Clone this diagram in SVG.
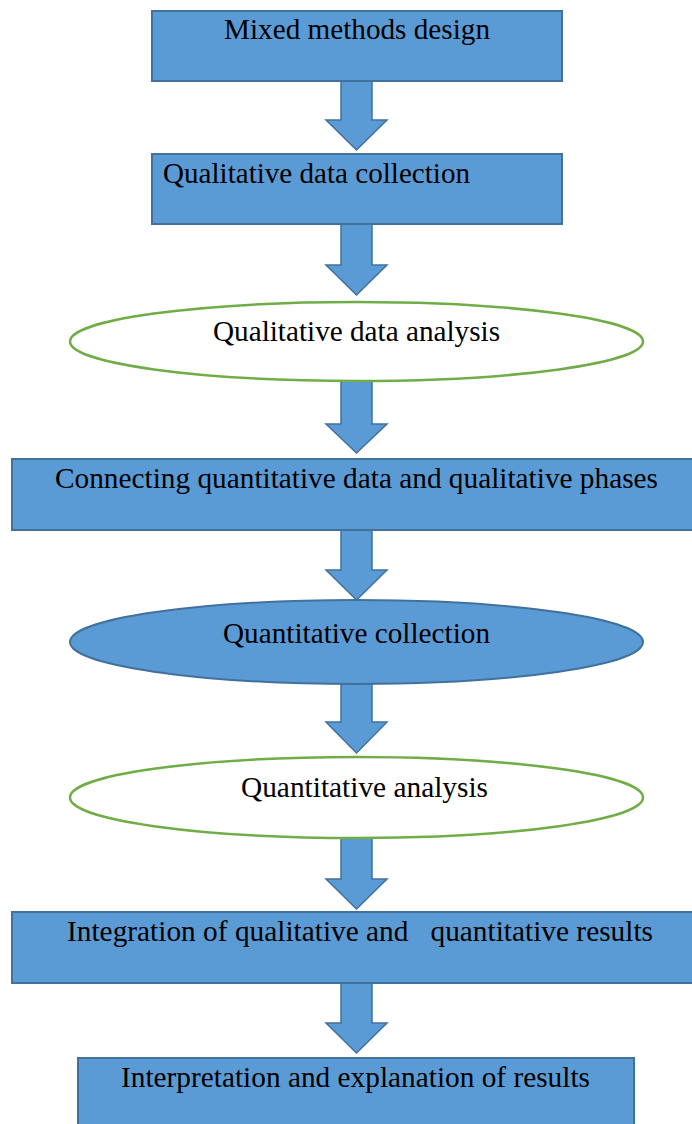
<svg xmlns="http://www.w3.org/2000/svg" width="692" height="1124" viewBox="0 0 692 1124">
<style>
.b{fill:#5B9BD5;stroke:#41719C;stroke-width:2}
.e{fill:#FFFFFF;stroke:#70AD47;stroke-width:2.5}
.a{fill:#5B9BD5;stroke:#41719C;stroke-width:1.5;stroke-linejoin:miter}
text{font-family:"Liberation Serif","Times New Roman",serif;font-size:29px;fill:#000;white-space:pre}
</style>
<rect width="692" height="1124" fill="#FFFFFF"/>
<g id="connectors">
<polygon class="a" points="341,81 372,81 372,120 387,120 356.5,150 326,120 341,120"/>
<polygon class="a" points="341,224 372,224 372,265 387,265 356.5,295 326,265 341,265"/>
<polygon class="a" points="341,381 372,381 372,424 387,424 356.5,453 326,424 341,424"/>
<polygon class="a" points="341,530 372,530 372,570 387,570 356.5,600 326,570 341,570"/>
<polygon class="a" points="341,684 372,684 372,722 387,722 356.5,753 326,722 341,722"/>
<polygon class="a" points="341,838 372,838 372,879 387,879 356.5,909 326,879 341,879"/>
<polygon class="a" points="341,983 372,983 372,1023 387,1023 356.5,1053 326,1023 341,1023"/>
</g>
<g id="n1"><rect class="b" x="152" y="11" width="410" height="70"/><text x="224" y="39" textLength="266" lengthAdjust="spacingAndGlyphs">Mixed methods design</text></g>
<g id="n2"><rect class="b" x="152" y="154" width="410" height="70"/><text x="163" y="183" textLength="307" lengthAdjust="spacingAndGlyphs">Qualitative data collection</text></g>
<g id="n3"><ellipse class="e" cx="356.5" cy="341.5" rx="286.5" ry="39.5"/><text x="213" y="341" textLength="287" lengthAdjust="spacingAndGlyphs">Qualitative data analysis</text></g>
<g id="n4"><rect class="b" x="12" y="459" width="682" height="71"/><text x="55" y="488" textLength="603" lengthAdjust="spacingAndGlyphs">Connecting quantitative data and qualitative phases</text></g>
<g id="n5"><ellipse class="b" cx="356.5" cy="642" rx="286.5" ry="42"/><text x="223" y="643" textLength="267" lengthAdjust="spacingAndGlyphs">Quantitative collection</text></g>
<g id="n6"><ellipse class="e" cx="356.5" cy="797.5" rx="286.5" ry="40.5"/><text x="241" y="797" textLength="247" lengthAdjust="spacingAndGlyphs">Quantitative analysis</text></g>
<g id="n7"><rect class="b" x="12" y="912" width="682" height="71"/><text x="67" y="941" textLength="586" lengthAdjust="spacingAndGlyphs">Integration of qualitative and   quantitative results</text></g>
<g id="n8"><rect class="b" x="78" y="1058" width="556" height="70"/><text x="121" y="1087" textLength="469" lengthAdjust="spacingAndGlyphs">Interpretation and explanation of results</text></g>
</svg>
